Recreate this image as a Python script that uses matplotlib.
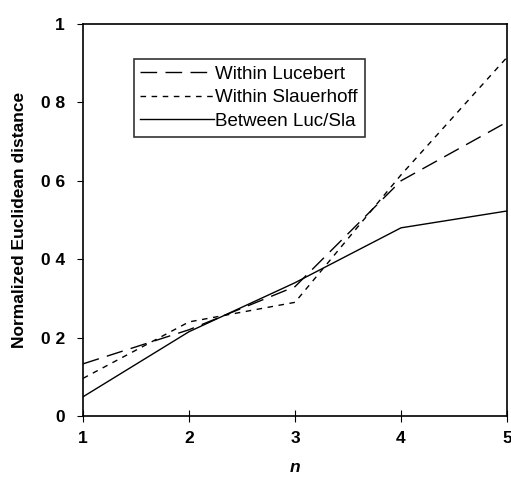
import matplotlib.pyplot as plt

n = [1, 2, 3, 4, 5]
within_luc = [0.133, 0.22, 0.33, 0.60, 0.75]
within_sla = [0.096, 0.24, 0.29, 0.615, 0.915]
between = [0.049, 0.215, 0.34, 0.48, 0.523]

y_ticks = [0, 0.2, 0.4, 0.6, 0.8, 1]
y_labels = ['0', '0 2', '0 4', '0 6', '0 8', '1']

plt.rcParams['font.family'] = ['Liberation Sans', 'DejaVu Sans']

fig = plt.figure(figsize=(5.11, 4.79), dpi=100)
ax = fig.add_axes([83 / 511, 1 - 416 / 479, 424 / 511, 392 / 479])

ax.plot(n, within_luc, color='black', lw=1.0, dashes=(12, 6), label='Within Lucebert')
ax.plot(n, within_sla, color='black', lw=1.0, dashes=(4, 4), label='Within Slauerhoff')
ax.plot(n, between, color='black', lw=1.0, label='Between Luc/Sla')

ax.set_xlim(1, 5)
ax.set_ylim(0, 1)
ax.set_xticks(n)
ax.set_yticks(y_ticks)
ax.set_yticklabels(y_labels)
ax.tick_params(axis='x', direction='inout', length=8, labelsize=12.5, pad=7)
ax.tick_params(axis='y', direction='out', length=4, labelsize=12.5, pad=9)
for lab in ax.get_xticklabels() + ax.get_yticklabels():
    lab.set_fontweight('bold')
for s in ax.spines.values():
    s.set_linewidth(1.2)

ax.set_xlabel('n', fontsize=12.5, fontweight='bold', style='italic', labelpad=10)
ax.set_ylabel('Normalized Euclidean distance', fontsize=12.5, fontweight='bold', labelpad=10)

leg = ax.legend(loc='upper left', bbox_to_anchor=(0.12, 0.911), frameon=True, fancybox=False,
                fontsize=13.5, handlelength=3.9, handletextpad=0.1, borderpad=0.35,
                labelspacing=0.35, edgecolor='black', borderaxespad=0)
leg.get_frame().set_linewidth(1.2)

fig.savefig('out.png', dpi=100)
